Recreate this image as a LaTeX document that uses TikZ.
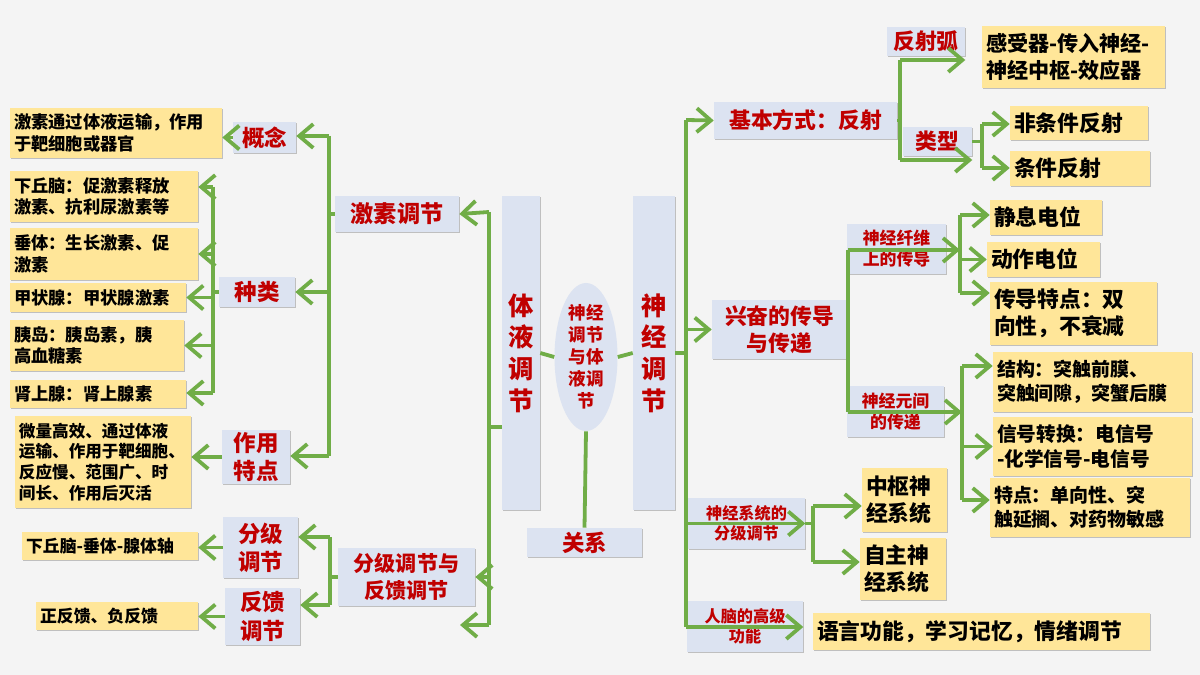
\documentclass[tikz,border=0pt]{standalone}
\usepackage{fontspec}
\setmainfont{Noto Sans CJK SC}
\usetikzlibrary{arrows.meta, shadows, shapes.geometric}

\definecolor{bluebox}{HTML}{DCE3F1}
\definecolor{yelbox}{HTML}{FFE699}
\definecolor{redtxt}{HTML}{C00000}
\definecolor{greenln}{HTML}{70AD47}
\definecolor{bgcol}{HTML}{F4F4F4}

\tikzset{
  box/.style n args={4}{at={({(#1+#3)/2},{(#2+#4)/2})},
    minimum width={(#3-#1)*0.025cm}, minimum height={(#4-#2)*0.025cm}},
  blue/.style={fill=bluebox, text=redtxt, align=center, inner sep=0pt,
    drop shadow={opacity=0.45, shadow xshift=1pt, shadow yshift=-1pt}},
  yel/.style n args={4}{box={#1}{#2}{#3}{#4}, fill=yelbox, text=black, align=left,
    inner xsep=0.1cm, inner ysep=0pt, text width={(#3-#1-8)*0.025cm},
    drop shadow={opacity=0.45, shadow xshift=1pt, shadow yshift=-1pt}},
  fs/.style={font=\bfseries\fontsize{#1pt}{\dimexpr#1pt*5/4\relax}\selectfont},
  ln/.style={draw=greenln, line width=2.7pt},
  arr/.style={ln, -{Straight Barb[length=10pt, width=17pt, line width=2.7pt]}}
}

\begin{document}
\begin{tikzpicture}[x=0.025cm, y=-0.025cm]
  \fill[bgcol] (0,0) rectangle (1200,675);
  % left side: humoral regulation
  \node[blue, fs=16.5, box={335}{196}{459}{232}] (jisu) {激素调节};
  \node[blue, fs=16, box={233}{122}{296}{153}] (gn) {概念};
  \node[yel={10}{108}{222}{158}, fs=12.3] (gnT) {激素通过体液运输，作用\\于靶细胞或器官};
  \node[blue, fs=16, box={219}{277}{295}{307}] (zl) {种类};
  \node[yel={10}{171}{198}{222}, fs=12.3] (z1) {下丘脑：促激素释放\\激素、抗利尿激素等};
  \node[yel={10}{228}{198}{280}, fs=12.3] (z2) {垂体：生长激素、促\\激素};
  \node[yel={10}{283}{186}{312}, fs=12.3] (z3) {甲状腺：甲状腺激素};
  \node[yel={10}{320}{184}{371}, fs=12.3] (z4) {胰岛：胰岛素，胰\\高血糖素};
  \node[yel={10}{380}{186}{408}, fs=12.3] (z5) {肾上腺：肾上腺素};
  \node[blue, fs=16, box={222}{430}{290}{484}] (td) {作用\\特点};
  \node[yel={15}{416}{191}{508}, fs=11.8] (tdT) {微量高效、通过体液\\运输、作用于靶细胞、\\反应慢、范围广、时\\间长、作用后灭活};
  \node[blue, fs=15, box={338}{548}{475}{606}] (fk) {分级调节与\\反馈调节};
  \node[blue, fs=16, box={223}{517}{298}{578}] (fj) {分级\\调节};
  \node[yel={22}{532}{198}{560}, fs=12] (fjT) {下丘脑-垂体-腺体轴};
  \node[blue, fs=16, box={225}{588}{300}{645}] (fb) {反馈\\调节};
  \node[yel={36}{602}{198}{630}, fs=12] (fbT) {正反馈、负反馈};
  % centre
  \node[blue, fs=18, box={502}{196}{540}{510}] (tiye) {体\\液\\调\\节};
  \node[blue, fs=18, box={633}{196}{675}{510}] (shen) {神\\经\\调\\节};
  \node[fill=bluebox, text=redtxt, ellipse, inner sep=0pt, fs=12.5, align=center,
    minimum width=63*0.025cm, minimum height=145*0.025cm] (rel) at (586,357) {神经\\调节\\与体\\液调\\节};
  \node[blue, fs=16, box={527}{528}{642}{557}] (gx) {关系};
  % right side: nervous regulation
  \node[blue, fs=15.5, box={714}{102}{897}{139}] (fsb) {基本方式：反射};
  \node[blue, fs=15.5, box={887}{27}{965}{56}] (fsh) {反射弧};
  \node[yel={982}{26}{1165}{88}, fs=15] (fshT) {感受器-传入神经-\\神经中枢-效应器};
  \node[blue, fs=15.5, box={903}{127}{972}{156}] (lx) {类型};
  \node[yel={1010}{106}{1148}{140}, fs=15.5] (lx1) {非条件反射};
  \node[yel={1010}{151}{1150}{186}, fs=15.5] (lx2) {条件反射};
  \node[blue, fs=15.5, box={712}{300}{847}{359}] (xf) {兴奋的传导\\与传递};
  \node[blue, fs=12, box={847}{224}{946}{274}] (cd) {神经纤维\\上的传导};
  \node[yel={990}{200}{1102}{235}, fs=15.5] (cd1) {静息电位};
  \node[yel={987}{242}{1100}{277}, fs=15.5] (cd2) {动作电位};
  \node[yel={990}{282}{1157}{345}, fs=15.5] (cd3) {传导特点：双\\向性，不衰减};
  \node[blue, fs=12, box={847}{386}{944}{437}] (cdd) {神经元间\\的传递};
  \node[yel={993}{352}{1192}{412}, fs=13.5] (d1) {结构：突触前膜、\\突触间隙，突蟹后膜};
  \node[yel={993}{417}{1192}{476}, fs=14] (d2) {信号转换：电信号\\-化学信号-电信号};
  \node[yel={990}{478}{1190}{537}, fs=13.5] (d3) {特点：单向性、突\\触延搁、对药物敏感};
  \node[blue, fs=11.5, box={688}{498}{805}{549}] (fjn) {神经系统的\\分级调节};
  \node[yel={862}{468}{947}{532}, fs=15.5] (n1) {中枢神\\经系统};
  \node[yel={860}{538}{946}{600}, fs=15.5] (n2) {自主神\\经系统};
  \node[blue, fs=11.5, box={687}{601}{803}{652}] (rn) {人脑的高级\\功能};
  \node[yel={813}{613}{1150}{650}, fs=15.5] (rnT) {语言功能，学习记忆，情绪调节};

  % bus points
  \coordinate (bLs) at (489,427); \coordinate (bL1) at (489,212); \coordinate (bL2) at (489,625);
  \coordinate (free) at (460,625);
  \coordinate (k1) at (329,136); \coordinate (k2) at (329,456);
  \coordinate (za) at (213,187); \coordinate (zb) at (213,393);
  \coordinate (fa) at (330,537); \coordinate (fz) at (330,605);
  \coordinate (r1) at (686,120); \coordinate (r2) at (686,627);
  \coordinate (s1) at (900,60); \coordinate (s2) at (900,160);
  \coordinate (t1) at (982,124); \coordinate (t2) at (982,168);
  \coordinate (x1) at (848,250); \coordinate (x2) at (848,412);
  \coordinate (cb1) at (960,215); \coordinate (cb2) at (960,293);
  \coordinate (db1) at (962,366); \coordinate (db2) at (962,500);
  \coordinate (na) at (813,506); \coordinate (nb) at (813,562);

  % left connectors
  \draw[ln] (tiye.west|-bLs) -- (bLs);
  \draw[ln] (bL1) -- (bL2);
  \draw[arr] (bL1) -- (jisu.east);
  \draw[arr] (bL1|-fk.east) -- (fk.east);
  \draw[arr] (bL2) -- (free);
  \draw[ln] (jisu.west) -- (jisu.west-|k1);
  \draw[ln] (k1) -- (k2);
  \draw[arr] (k1) -- (k1-|gn.east);
  \draw[arr] (k1|-zl.east) -- (zl.east);
  \draw[arr] (k2) -- (k2-|td.east);
  \draw[arr] (gn.west) -- (gn.west-|gnT.east);
  \draw[ln] (zl.west) -- (zl.west-|za);
  \draw[ln] (za) -- (zb);
  \draw[arr] (za) -- (za-|z1.east);
  \draw[arr] (za|-z2.east) -- (z2.east);
  \draw[arr] (za|-z3.east) -- (z3.east);
  \draw[arr] (za|-z4.east) -- (z4.east);
  \draw[arr] (zb) -- (zb-|z5.east);
  \draw[arr] (td.west) -- (td.west-|tdT.east);
  \draw[ln] (fk.west) -- (fk.west-|fa);
  \draw[ln] (fa) -- (fz);
  \draw[arr] (fa) -- (fa-|fj.east);
  \draw[arr] (fz) -- (fz-|fb.east);
  \draw[arr] (fj.west) -- (fj.west-|fjT.east);
  \draw[arr] (fb.west) -- (fb.west-|fbT.east);
  % centre connectors
  \draw[ln] (tiye.east) -- (rel.west);
  \draw[ln] (rel.east) -- (shen.west);
  \draw[ln] (rel.south) -- (gx.north);
  % right connectors
  \draw[ln] (shen.east) -- (shen.east-|r1);
  \draw[ln] (r1) -- (r2);
  \draw[arr] (r1) -- (fsb.west);
  \draw[arr] (r1|-xf.west) -- (xf.west);
  \draw[arr] (r1|-fjn.east) -- (fjn.east);
  \draw[arr] (r2) -- (r2-|rn.east);
  \draw[ln] (fsb.east) -- (fsb.east-|s1);
  \draw[ln] (s1) -- (s2);
  \draw[arr] (s1) -- (s1-|fsh.east);
  \draw[arr] (s2) -- (s2-|lx.east);
  \draw[ln] (lx.east) -- (lx.east-|t1);
  \draw[ln] (t1) -- (t2);
  \draw[arr] (t1) -- (t1-|lx1.west);
  \draw[arr] (t2) -- (t2-|lx2.west);
  \draw[ln] (x1) -- (x2);
  \draw[arr] (x1) -- (x1-|cb1);
  \draw[arr] (x2) -- (x2-|db1);
  \draw[ln] (cb1) -- (cb2);
  \draw[arr] (cb1) -- (cb1-|cd1.west);
  \draw[arr] (cb1|-cd2.west) -- (cd2.west);
  \draw[arr] (cb2) -- (cb2-|cd3.west);
  \draw[ln] (db1) -- (db2);
  \draw[arr] (db1) -- (db1-|d1.west);
  \draw[arr] (db1|-d2.west) -- (d2.west);
  \draw[arr] (db2) -- (db2-|d3.west);
  \draw[ln] (fjn.east) -- (fjn.east-|na);
  \draw[ln] (na) -- (nb);
  \draw[arr] (na) -- (na-|n1.west);
  \draw[arr] (nb) -- (nb-|n2.west);
\end{tikzpicture}
\end{document}
